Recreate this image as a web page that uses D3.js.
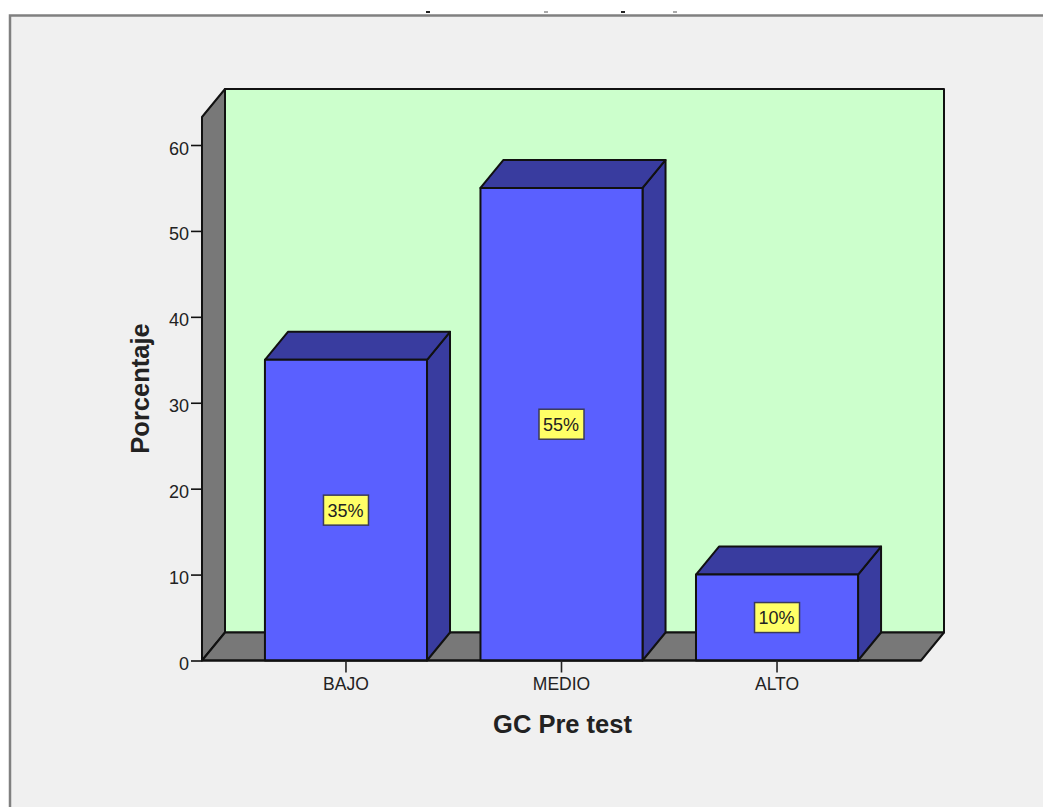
<!DOCTYPE html>
<html lang="en">
<head>
  <meta charset="UTF-8" />
  <title>GC Pre test</title>
  <script src="https://d3js.org/d3.v7.min.js"></script>
  <style>
    body { margin: 0; padding: 0; background: #fff; overflow: hidden; }
    svg { display: block; }
    text { font-family: "Liberation Sans", Arial, sans-serif; fill: #222; }
  </style>
</head>
<body>
<div id="chart"></div>
<script>
  // Data
  const categories = ["BAJO", "MEDIO", "ALTO"];
  const percentages = [35, 55, 10];
  const yTicks = [0, 10, 20, 30, 40, 50, 60];

  const width = 1043;
  const height = 807;

  // Depth offset of the fake 3D box
  const depthX = 23;
  const depthY = -28;

  const x = d3.scaleBand()
    .domain(categories)
    .range([202, 921])
    .paddingInner(0.248)
    .paddingOuter(0.292);

  const y = d3.scaleLinear()
    .domain([0, 60])
    .range([660.5, 145]);

  const yTop = 117; // front top edge of the side wall

  const svg = d3.select("#chart")
    .append("svg")
    .attr("width", width)
    .attr("height", height);

  // Panel background and frame
  svg.append("rect")
    .attr("x", 10).attr("y", 15.5)
    .attr("width", width).attr("height", height)
    .attr("fill", "#f0f0f0")
    .attr("stroke", "#808080")
    .attr("stroke-width", 2.5);

  // Bottom of the cropped title, only specks are left above the frame
  svg.selectAll(".speck")
    .data([[428, "#222"], [546, "#aaa"], [623, "#222"], [675, "#aaa"]])
    .enter()
    .append("rect")
    .attr("class", "speck")
    .attr("x", d => d[0] - 2)
    .attr("y", 11)
    .attr("width", 4)
    .attr("height", 2)
    .attr("fill", d => d[1]);

  const poly = (points, fill, sw = 2) => svg.append("polygon")
    .attr("points", points.map(p => p.join(",")).join(" "))
    .attr("fill", fill)
    .attr("stroke", "#111")
    .attr("stroke-width", sw)
    .attr("stroke-linejoin", "round");

  const y0 = y(0);
  const xL = x.range()[0];
  const xR = x.range()[1];

  // Back wall
  poly([[xL + depthX, yTop + depthY], [xR + depthX, yTop + depthY], [xR + depthX, y0 + depthY], [xL + depthX, y0 + depthY]], "#ccffcc");
  // Left wall
  poly([[xL, yTop], [xL + depthX, yTop + depthY], [xL + depthX, y0 + depthY], [xL, y0]], "#787878");
  // Floor
  poly([[xL, y0], [xL + depthX, y0 + depthY], [xR + depthX, y0 + depthY], [xR, y0]], "#787878");

  // Bars
  categories.forEach((c, i) => {
    const bx = x(c);
    const bw = x.bandwidth();
    const by = y(percentages[i]);

    poly([[bx + bw, by], [bx + bw + depthX, by + depthY], [bx + bw + depthX, y0 + depthY], [bx + bw, y0]], "#393c9f");
    poly([[bx, by], [bx + depthX, by + depthY], [bx + bw + depthX, by + depthY], [bx + bw, by]], "#393c9f");
    poly([[bx, by], [bx + bw, by], [bx + bw, y0], [bx, y0]], "#5a60ff");

    // Value label in the middle of the bar
    const cx = bx + bw / 2;
    const cy = y(percentages[i] / 2);
    svg.append("rect")
      .attr("x", cx - 22.5).attr("y", cy - 15)
      .attr("width", 45).attr("height", 30)
      .attr("fill", "#ffff66")
      .attr("stroke", "#3a3a5a")
      .attr("stroke-width", 1.5);
    svg.append("text")
      .attr("x", cx - 0.5).attr("y", cy + 6.5)
      .attr("text-anchor", "middle")
      .style("font-size", "18px")
      .text(percentages[i] + "%");
  });

  // Y axis
  const yAxis = svg.append("g")
    .attr("transform", `translate(${xL},0)`)
    .call(d3.axisLeft(y).tickValues(yTicks).tickSize(11).tickPadding(2));
  yAxis.select(".domain").attr("stroke", "#111").attr("stroke-width", 2)
    .attr("d", `M0,${yTop}V${y0}`);
  yAxis.selectAll(".tick line").attr("stroke", "#111").attr("stroke-width", 1.6);
  yAxis.selectAll(".tick text")
    .style("font-family", '"Liberation Sans", Arial, sans-serif')
    .style("font-size", "18px")
    .style("fill", "#222")
    .attr("dy", "0.5em");

  // X axis
  const xAxis = svg.append("g")
    .attr("transform", `translate(0,${y0})`)
    .call(d3.axisBottom(x).tickSize(12).tickPadding(5));
  xAxis.select(".domain").attr("stroke", "#111").attr("stroke-width", 2)
    .attr("d", `M${xL},0H${xR}`);
  xAxis.selectAll(".tick line").attr("stroke", "#222").attr("stroke-width", 1.6);
  xAxis.selectAll(".tick text")
    .style("font-family", '"Liberation Sans", Arial, sans-serif')
    .style("font-size", "17.5px")
    .style("fill", "#222");

  // Axis titles
  svg.append("text")
    .attr("x", 562.5).attr("y", 733)
    .attr("text-anchor", "middle")
    .style("font-size", "25.5px")
    .style("font-weight", "bold")
    .text("GC Pre test");

  svg.append("text")
    .attr("transform", "translate(149,388.5) rotate(-90)")
    .attr("text-anchor", "middle")
    .style("font-size", "25.5px")
    .style("font-weight", "bold")
    .text("Porcentaje");
</script>
</body>
</html>
